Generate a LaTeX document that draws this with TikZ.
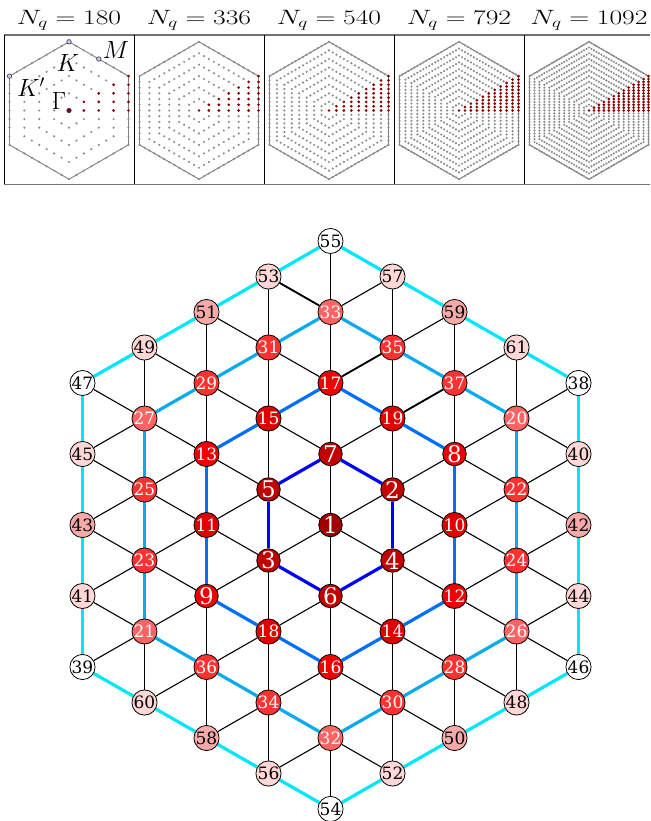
\documentclass[tikz,border=0pt]{standalone}
\usepackage{fontspec}
\usepackage{graphicx}
\newfontfamily\labfont{DejaVu Serif}
\usetikzlibrary{calc,backgrounds}
\definecolor{c0}{RGB}{160,0,0}
\definecolor{c4}{RGB}{195,0,0}
\definecolor{c12}{RGB}{225,0,0}
\definecolor{c16}{RGB}{240,0,0}
\definecolor{c28}{RGB}{255,50,50}
\definecolor{c36}{RGB}{255,100,100}
\definecolor{c48}{RGB}{245,170,170}
\definecolor{c52}{RGB}{255,215,215}
\definecolor{c64}{RGB}{255,255,255}
\definecolor{rA}{RGB}{0,0,255}
\definecolor{rB}{RGB}{0,110,255}
\definecolor{rC}{RGB}{10,170,240}
\definecolor{rD}{RGB}{0,230,250}
\definecolor{dotgray}{RGB}{140,140,140}
\definecolor{dotred}{RGB}{140,0,0}
\definecolor{navy}{RGB}{50,50,110}
\tikzset{
 lat/.style={circle,draw=black,line width=0.8pt,minimum size=23.5pt,inner sep=0pt},
 blk/.style={draw=black,line width=1.1pt},
 blkthick/.style={draw=black,line width=1.8pt},
 ring1/.style={draw=rA,line width=3.2pt},
 ring2/.style={draw=rB,line width=3.2pt},
 ring3/.style={draw=rC,line width=3.2pt},
 ring4/.style={draw=rD,line width=3.2pt},
 gdot/.style={fill=dotgray},
 rdot/.style={fill=dotred},
 hexline/.style={draw=black!50,line width=0.9pt},
 rule/.style={draw=black!55,line width=1.4pt},
 vline/.style={draw=black,line width=0.8pt},
 hdr/.style={font=\fontsize{20}{20}\selectfont,inner sep=0pt},
 bz/.style={circle,draw=navy,fill=navy!25,line width=0.6pt,inner sep=0pt,minimum size=4.5pt},
 bzlab/.style={font=\fontsize{24}{24}\selectfont,inner sep=0pt},
}
\newcommand\tryedge[4]{%
  \pgfmathtruncatemacro\Ia{#1+4}\pgfmathtruncatemacro\Ka{#2+8}%
  \pgfmathtruncatemacro\Ib{#1+#3+4}\pgfmathtruncatemacro\Kb{#2+#4+8}%
  \ifcsname pgf@sh@ns@g\Ia-\Ka\endcsname
   \ifcsname pgf@sh@ns@g\Ib-\Kb\endcsname
     \pgfmathtruncatemacro\ra{max(abs(#1),(abs(#1)+abs(#2))/2)}%
     \pgfmathtruncatemacro\rb{max(abs(#1+#3),(abs(#1+#3)+abs(#2+#4))/2)}%
     \ifnum\ra=\rb
       \draw[ring\ra] (g\Ia-\Ka) -- (g\Ib-\Kb);
     \else
       \draw[blk] (g\Ia-\Ka) -- (g\Ib-\Kb);
     \fi
   \fi
  \fi}
\begin{document}
\begin{tikzpicture}[x=1pt,y=-1pt]
\useasboundingbox (0,0) rectangle (650,821);
% ---------- table ----------
\draw[rule] (4,35) -- (650,35);
\draw[rule] (4,184.5) -- (650,184.5);
\foreach \xv in {4,134,264,394,524} \draw[vline] (\xv,35) -- (\xv,184.5);
% ---------- panels ----------
\foreach \p/\n/\N in {0/4/180,1/6/336,2/8/540,3/10/792,4/12/1092}{
  \pgfmathsetmacro\cx{69+130*\p}
  \def\cy{110.5}
  \pgfmathsetmacro\s{59.5/\n}
  \node[hdr] (h\p) at (\cx,20) {\scalebox{1.33}[1]{$N_q=\N$}};
  \draw[hexline] (\cx,\cy-68.7) -- (\cx+59.5,\cy-34.35) -- (\cx+59.5,\cy+34.35)
     -- (\cx,\cy+68.7) -- (\cx-59.5,\cy+34.35) -- (\cx-59.5,\cy-34.35) -- cycle;
  \foreach \k in {1,...,\n}{
    \pgfmathsetmacro\R{\k*\s/0.866025}
    \pgfmathtruncatemacro\T{2*\k-1}
    \foreach \m in {0,...,5}{
      \foreach \t in {0,...,\T}{
        \pgfmathsetmacro\u{\t/(2*\k)}
        \pgfmathsetmacro\px{\cx+\R*((1-\u)*cos(30+60*\m)+\u*cos(90+60*\m))}
        \pgfmathsetmacro\py{\cy-\R*((1-\u)*sin(30+60*\m)+\u*sin(90+60*\m))}
        \fill[gdot] (\px,\py) circle (1.2);
      }
    }
  }
  \foreach \k in {0,...,\n}{
    \foreach \j in {0,...,\k}{
      \fill[rdot] (\cx+\k*\s,\cy-\j*\s*0.57735) circle (1.45);
    }
  }
}
\node[bz] (K) at (69,41.8) {};
\node[bz] (M) at (98.75,59) {};
\node[bz] (Kp) at (9.5,76.15) {};
\node[bz,fill=dotred] (G) at (69,110.5) {};
\node[bzlab] (lK) at (68,63) {$K$};
\node[bzlab] (lM) at (116,50) {$M$};
\node[bzlab] (lKp) at (31,87) {$K'$};
\node[bzlab] (lG) at (59,101) {$\Gamma$};
% ---------- lattice ----------
\foreach \i/\k/\l in {0/8/55,0/6/33,0/4/17,0/2/7,0/0/1,0/-2/6,0/-4/16,0/-6/32,0/-8/54,
  1/7/57,1/5/35,1/3/19,1/1/2,1/-1/4,1/-3/14,1/-5/30,1/-7/52,
  2/6/59,2/4/37,2/2/8,2/0/10,2/-2/12,2/-4/28,2/-6/50,
  3/5/61,3/3/20,3/1/22,3/-1/24,3/-3/26,3/-5/48,
  4/4/38,4/2/40,4/0/42,4/-2/44,4/-4/46,
  -1/7/53,-1/5/31,-1/3/15,-1/1/5,-1/-1/3,-1/-3/18,-1/-5/34,-1/-7/56,
  -2/6/51,-2/4/29,-2/2/13,-2/0/11,-2/-2/9,-2/-4/36,-2/-6/58,
  -3/5/49,-3/3/27,-3/1/25,-3/-1/23,-3/-3/21,-3/-5/60,
  -4/4/47,-4/2/45,-4/0/43,-4/-2/41,-4/-4/39}{
  \pgfmathtruncatemacro\I{\i+4}
  \pgfmathtruncatemacro\K{\k+8}
  \pgfmathtruncatemacro\dd{3*\i*\i+\k*\k}
  \ifnum\dd<48 \def\mytc{white}\else\def\mytc{black}\fi
  \ifnum\l<10 \def\myfs{23}\else\def\myfs{17}\fi
  \node[lat,fill=c\dd,text=\mytc,font=\labfont\fontsize{\myfs}{\myfs}\selectfont,alias=n\l]
    (g\I-\K) at (330.5+62*\i,525-35.5*\k) {\l};
}
\begin{scope}[on background layer]
\foreach \i in {-4,...,4}{
  \foreach \k in {-8,...,8}{
    \tryedge{\i}{\k}{0}{2}
    \tryedge{\i}{\k}{1}{1}
    \tryedge{\i}{\k}{1}{-1}
  }
}
\draw[blkthick] (n53) -- (n33);
\draw[blkthick] (n17) -- (n35);
\draw[blkthick] (n19) -- (n37);
\end{scope}
\end{tikzpicture}
\end{document}
